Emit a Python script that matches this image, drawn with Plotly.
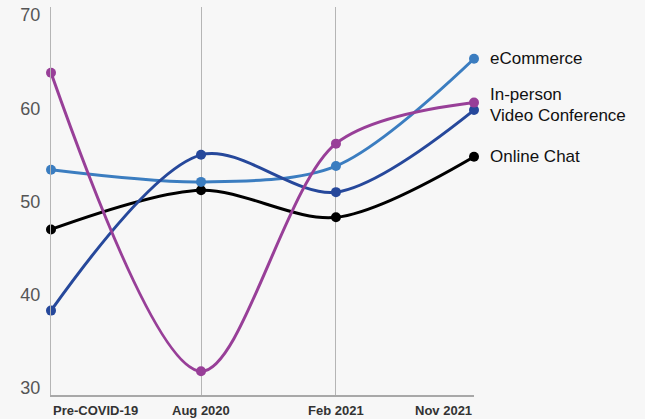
import plotly.graph_objects as go

categories = ["Pre-COVID-19", "Aug 2020", "Feb 2021", "Nov 2021"]
cat_pos = [0, 1.064, 2.021, 3]

series_names = ["eCommerce", "In-person", "Video Conference", "Online Chat"]
ecommerce = [53.4, 52.1, 53.8, 65.3]
in_person = [63.8, 31.8, 56.2, 60.6]
video_conf = [38.3, 55.0, 51.0, 59.8]
online_chat = [47.0, 51.2, 48.3, 54.8]

y_ticks = [30, 40, 50, 60, 70]

colors = {"eCommerce": "#3b7dc0", "In-person": "#983f98",
          "Video Conference": "#26489b", "Online Chat": "#000000"}
values = {"eCommerce": ecommerce, "In-person": in_person,
          "Video Conference": video_conf, "Online Chat": online_chat}

fig = go.Figure()
for name in ["Online Chat", "eCommerce", "Video Conference", "In-person"]:
    fig.add_trace(go.Scatter(
        x=cat_pos, y=values[name], mode="lines+markers", name=name,
        line=dict(color=colors[name], width=3, shape="spline", smoothing=0.9),
        marker=dict(color=colors[name], size=10),
        cliponaxis=False, showlegend=False, hoverinfo="skip"))

label_offsets = {"eCommerce": 0, "In-person": 8, "Video Conference": -5, "Online Chat": 0}
for name in series_names:
    fig.add_annotation(x=cat_pos[-1], y=values[name][-1], xref="x", yref="y",
                       text=name, showarrow=False, xanchor="left", yanchor="middle",
                       xshift=14, yshift=label_offsets[name],
                       font=dict(family="Liberation Sans, Arial, sans-serif", size=17, color="#111"))

anchors = ["left", "center", "center", "right"]
for c, p, a in zip(categories, cat_pos, anchors):
    fig.add_annotation(x=p, y=0, xref="x", yref="paper", text="<b>" + c + "</b>",
                       showarrow=False, xanchor=a, yanchor="top", yshift=-6,
                       font=dict(family="Liberation Sans Narrow, Arial Narrow, Liberation Sans, sans-serif",
                                 size=13, color="#333"))

fig.update_layout(
    width=645, height=419,
    margin=dict(l=51, r=171, t=5, b=24),
    paper_bgcolor="#f7f7f7", plot_bgcolor="#f7f7f7",
    xaxis=dict(range=[cat_pos[0], cat_pos[-1]], tickvals=cat_pos, showticklabels=False,
               showgrid=True, gridcolor="#b5b5b5", gridwidth=1, zeroline=False,
               showline=True, linecolor="#a8a8a8", linewidth=2, ticks=""),
    yaxis=dict(range=[29.25, 70.85], tickvals=y_ticks, showgrid=False, zeroline=False,
               showline=True, linecolor="#b5b5b5", linewidth=1, ticks="",
               tickfont=dict(family="Liberation Sans, Arial, sans-serif", size=18, color="#555"),
               ticklabelstandoff=6),
)

fig.write_html("out.html", config={"displayModeBar": False},
               post_script="document.body.style.margin='0';document.body.style.background='#f7f7f7';")
